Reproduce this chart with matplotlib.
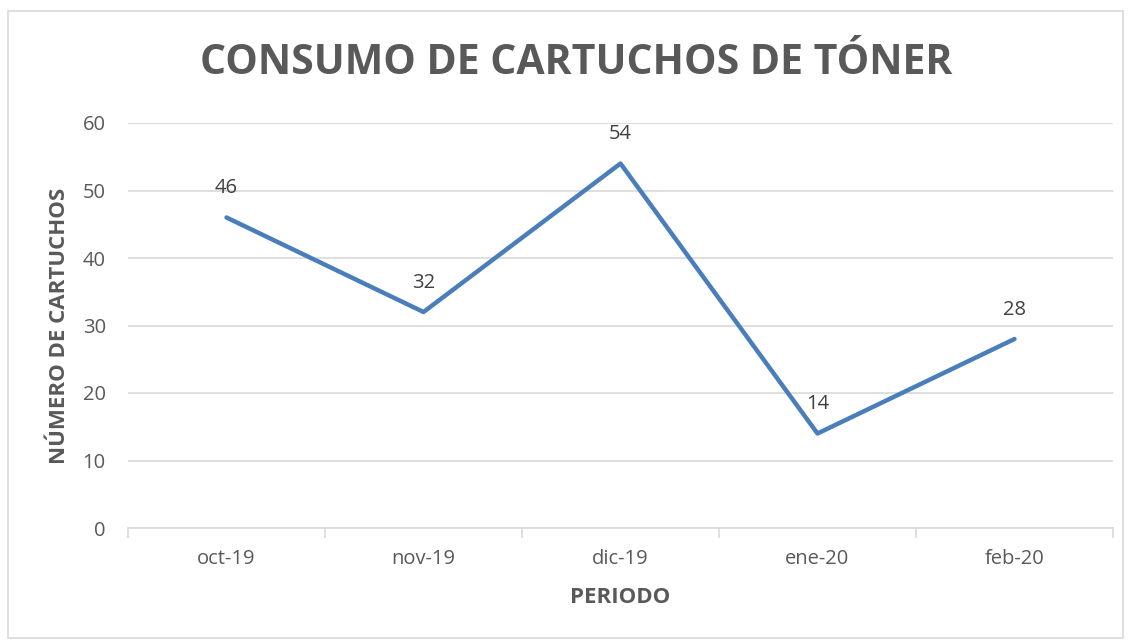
import matplotlib.pyplot as plt
from matplotlib.patches import Rectangle

periodos = ['oct-19', 'nov-19', 'dic-19', 'ene-20', 'feb-20']
cartuchos = [46, 32, 54, 14, 28]
y_ticks = [0, 10, 20, 30, 40, 50, 60]

gris = '#595959'
grid_col = '#d9d9d9'
azul = '#4a7ebb'

plt.rcParams['font.family'] = ['Open Sans', 'DejaVu Sans']

fig = plt.figure(figsize=(11.32, 6.4), dpi=100)
fig.patches.append(Rectangle((8 / 1132, 2 / 640), 1115 / 1132, 627 / 640,
                             transform=fig.transFigure, fill=False,
                             edgecolor=grid_col, linewidth=1.2))

ax = fig.add_axes([128 / 1132, 1 - 528 / 640, 985 / 1132, 405 / 640])
x = list(range(len(periodos)))
ax.plot(x, cartuchos, color=azul, linewidth=3.2, solid_capstyle='round')
for xi, v in zip(x, cartuchos):
    ax.annotate(str(v), (xi, v), xytext=(0, 14), textcoords='offset points',
                ha='center', va='bottom', fontsize=14.5, color='#404040')

ax.set_xlim(-0.5, len(periodos) - 0.5)
ax.set_ylim(0, 60)
ax.set_yticks(y_ticks)
ax.set_xticks(x)
ax.set_xticklabels(periodos)
ax.set_xticks([i - 0.5 for i in range(len(periodos) + 1)], minor=True)
ax.grid(axis='y', color=grid_col, linewidth=1.2)
ax.set_axisbelow(True)
for s in ['top', 'right', 'left']:
    ax.spines[s].set_visible(False)
ax.spines['bottom'].set_color(grid_col)
ax.spines['bottom'].set_linewidth(1.2)
ax.tick_params(axis='y', length=0, pad=16, labelsize=14.5, labelcolor=gris)
ax.tick_params(axis='x', which='major', length=0, pad=15, labelsize=14.5, labelcolor=gris)
ax.tick_params(axis='x', which='minor', length=7, width=1.2, color=grid_col)

ax.set_xlabel('PERIODO', fontsize=16, fontweight='bold', color=gris, labelpad=13)
ax.set_ylabel('NÚMERO DE CARTUCHOS', fontsize=16, fontweight='bold', color=gris, labelpad=9)

fig.text(576 / 1132, 1 - 63 / 640, 'CONSUMO DE CARTUCHOS DE TÓNER', ha='center', va='center',
         fontsize=29.5, fontweight='bold', color=gris)

fig.savefig('out.png', dpi=100)
